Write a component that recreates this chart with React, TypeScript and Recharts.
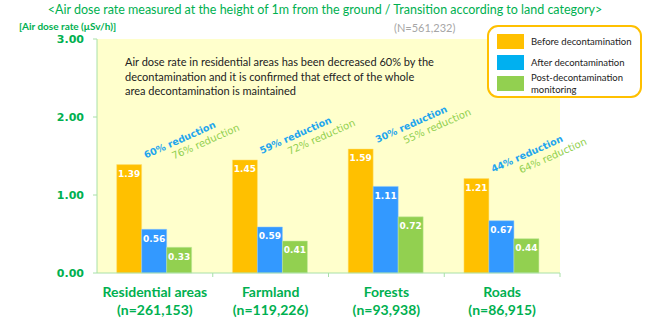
import { BarChart, Bar, XAxis, YAxis, CartesianGrid, LabelList } from "recharts";

const categories = ["Residential areas", "Farmland", "Forests", "Roads"];
const counts = ["n=261,153", "n=119,226", "n=93,938", "n=86,915"];
const before = [1.39, 1.45, 1.59, 1.21];
const after = [0.56, 0.59, 1.11, 0.67];
const monitoring = [0.33, 0.41, 0.72, 0.44];
const afterCut = [60, 59, 30, 44];
const monitoringCut = [76, 72, 55, 64];
const yTicks = [0, 1, 2, 3];

const ORANGE = "#FFC000";
const BLUE = "#3399FF";
const GREEN = "#92D050";
const TEXT_GREEN = "#00B050";
const AXIS = "#A8E0A8";
const CALIBRI = "Lato, 'Open Sans', sans-serif";
const VERDANA = "'DejaVu Sans', Verdana, sans-serif";

const data = categories.map((name, i) => ({
  name,
  count: counts[i],
  before: before[i],
  after: after[i],
  monitoring: monitoring[i],
  afterCut: afterCut[i],
  monitoringCut: monitoringCut[i],
}));

const legendItems = [
  { label: "Before decontamination", color: ORANGE },
  { label: "After decontamination", color: "#00B0F0" },
  { label: "Post-decontamination monitoring", color: GREEN },
];

const CHART_W = 650;
const CHART_H = 323;
const MARGIN = { top: 39, right: 90, left: 0, bottom: 0 };
const BAND = (CHART_W - 97 - MARGIN.right) / categories.length;

function CategoryTick({ x, y, payload, index }: any) {
  const i = index ?? categories.indexOf(payload.value);
  return (
    <g>
      <line x1={x + BAND / 2} x2={x + BAND / 2} y1={y - 8} y2={y - 4} stroke={AXIS} />
      <text
        x={x}
        y={y + 16}
        textAnchor="middle"
        fill={TEXT_GREEN}
        fontFamily={CALIBRI}
        fontWeight={700}
        fontSize={14}
      >
        <tspan x={x}>{payload.value}</tspan>
        <tspan x={x} dy={18}>({counts[i]})</tspan>
      </text>
    </g>
  );
}

function CutLabel({ x, y, width, value, dx, dy, color, weight, size }: any) {
  const tx = x + width + dx;
  const ty = y + dy;
  return (
    <text
      x={tx}
      y={ty}
      transform={`rotate(-24, ${tx}, ${ty})`}
      fill={color}
      fontFamily={VERDANA}
      fontSize={size}
      fontWeight={weight}
    >
      {value}% reduction
    </text>
  );
}

function LegendBox() {
  return (
    <div
      style={{
        position: "absolute",
        left: 487,
        top: 25,
        width: 155,
        height: 73,
        border: `2px solid ${ORANGE}`,
        borderRadius: 11,
        background: "#fff",
        boxSizing: "border-box",
        padding: "4px 0 0 8px",
        fontFamily: CALIBRI,
        fontSize: 9.5,
        color: "#222",
      }}
    >
      {legendItems.map((item) => (
        <div key={item.label} style={{ display: "flex", alignItems: "center", height: 21 }}>
          <span
            style={{
              width: 27,
              height: 15,
              background: item.color,
              marginRight: 7,
              flexShrink: 0,
            }}
          />
          <span style={{ lineHeight: "12px", width: 110 }}>{item.label}</span>
        </div>
      ))}
    </div>
  );
}

export default function App() {
  return (
    <div
      style={{
        position: "absolute",
        left: 0,
        top: 0,
        width: CHART_W,
        height: CHART_H,
        background: "#fff",
        overflow: "hidden",
      }}
    >
      <div
        style={{
          position: "absolute",
          left: 0,
          top: 2,
          width: CHART_W,
          textAlign: "center",
          fontFamily: CALIBRI,
          fontSize: 12.5,
          color: TEXT_GREEN,
        }}
      >
        &lt;Air dose rate measured at the height of 1m from the ground / Transition according to land category&gt;
      </div>
      <div
        style={{
          position: "absolute",
          left: 19,
          top: 20,
          fontFamily: CALIBRI,
          fontSize: 10,
          fontWeight: 700,
          color: TEXT_GREEN,
        }}
      >
        [Air dose rate (μSv/h)]
      </div>
      <div
        style={{
          position: "absolute",
          left: 394,
          top: 21,
          fontFamily: CALIBRI,
          fontSize: 11,
          color: "#A6A6A6",
        }}
      >
        (N=561,232)
      </div>
      <BarChart
        width={CHART_W}
        height={CHART_H}
        data={data}
        margin={MARGIN}
        barCategoryGap="17%"
        barGap={0}
      >
        <CartesianGrid fill="#FFFFCC" stroke="none" horizontal={false} vertical={false} />
        <XAxis
          dataKey="name"
          height={50}
          axisLine={{ stroke: AXIS }}
          tickLine={false}
          tick={<CategoryTick />}
          interval={0}
        />
        <YAxis
          domain={[0, 3]}
          ticks={yTicks}
          width={97}
          tickFormatter={(v: number) => v.toFixed(2)}
          axisLine={{ stroke: AXIS }}
          tickLine={{ stroke: AXIS }}
          tickSize={4}
          tickMargin={9}
          tick={{ fill: TEXT_GREEN, fontSize: 11, fontWeight: 700, fontFamily: VERDANA }}
        />
        <Bar dataKey="before" fill={ORANGE} stroke="#FFE27A" strokeWidth={0.5} isAnimationActive={false}>
          <LabelList
            dataKey="before"
            position="insideTop"
            offset={6}
            fill="#fff"
            fontSize={9}
            fontWeight={700}
            fontFamily={VERDANA}
            formatter={(v: any) => Number(v).toFixed(2)}
          />
          <LabelList
            dataKey="afterCut"
            content={(p: any) => (
              <CutLabel {...p} dx={4} dy={-6} color="#1EA5EE" weight={700} size={9.5} />
            )}
          />
          <LabelList
            dataKey="monitoringCut"
            content={(p: any) => (
              <CutLabel {...p} dx={32} dy={-5} color={GREEN} weight={400} size={10} />
            )}
          />
        </Bar>
        <Bar dataKey="after" fill={BLUE} stroke="#8CC6FF" strokeWidth={0.5} isAnimationActive={false}>
          <LabelList
            dataKey="after"
            position="insideTop"
            offset={6}
            fill="#fff"
            fontSize={9}
            fontWeight={700}
            fontFamily={VERDANA}
            formatter={(v: any) => Number(v).toFixed(2)}
          />
        </Bar>
        <Bar dataKey="monitoring" fill={GREEN} stroke="#C4E8A0" strokeWidth={0.5} isAnimationActive={false}>
          <LabelList
            dataKey="monitoring"
            position="insideTop"
            offset={6}
            fill="#fff"
            fontSize={9}
            fontWeight={700}
            fontFamily={VERDANA}
            formatter={(v: any) => Number(v).toFixed(2)}
          />
        </Bar>
      </BarChart>
      <LegendBox />
      <div
        style={{
          position: "absolute",
          left: 125,
          top: 55,
          width: 350,
          fontFamily: CALIBRI,
          fontSize: 11,
          lineHeight: "14.5px",
          color: "#222",
        }}
      >
        Air dose rate in residential areas has been decreased 60% by the
        <br />
        decontamination and it is confirmed that effect of the whole
        <br />
        area decontamination is maintained
      </div>
    </div>
  );
}
